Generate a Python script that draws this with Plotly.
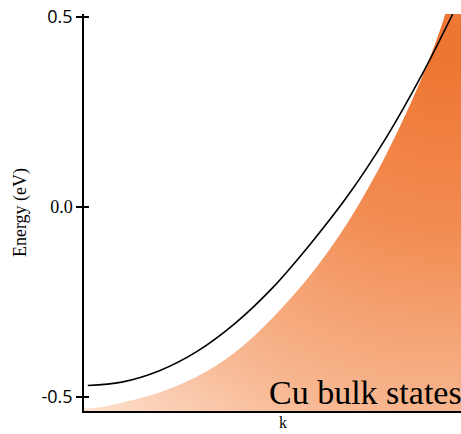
import numpy as np
import plotly.graph_objects as go

# black surface-state band (k normalised 0..1, energy in eV)
band_k = [0.010, 0.100, 0.200, 0.300, 0.400, 0.500, 0.600, 0.700, 0.800, 0.900, 0.978]
band_E = [-0.470, -0.461, -0.431, -0.380, -0.307, -0.213, -0.098, 0.030, 0.180, 0.355, 0.508]

# upper-left edge of the bulk-state continuum
edge_k = [0.020, 0.100, 0.200, 0.300, 0.400, 0.500, 0.600, 0.700, 0.800, 0.900, 0.958]
edge_E = [-0.530, -0.515, -0.488, -0.446, -0.383, -0.292, -0.180, -0.040, 0.135, 0.350, 0.508]

tick_vals = [-0.5, 0.0, 0.5]
tick_text = ['<span style="font-family:Open Sans">-0.5</span>',
             '<span style="font-family:Liberation Serif">0.0</span>',
             '<span style="font-family:Open Sans">0.5</span>']

Y_MIN, Y_MAX = -0.537, 0.508
X_MIN, X_MAX = 0.0, 1.0

# gradient field for the shaded continuum (darkest toward the upper right)
gk = np.linspace(-0.01, 1.01, 160)
gE = np.linspace(Y_MIN - 0.01, Y_MAX + 0.01, 160)
KK, EE = np.meshgrid(gk, gE)
px = KK * 377.0
py = -EE * 381.0
cx, cy = 0.955 * 377.0, -0.42 * 381.0
dist = np.sqrt((px - cx) ** 2 + (py - cy) ** 2)
Z = np.clip(dist / 520.0, 0, 1)

fig = go.Figure()
fig.add_trace(go.Heatmap(
    x=gk, y=gE, z=Z, zmin=0, zmax=1, zsmooth='best', showscale=False,
    colorscale=[[0, '#ee7430'], [0.35, '#f28c52'], [0.7, '#f7b58e'], [1, '#fde3d2']],
    hoverinfo='skip'))

mask_k = [-0.05, -0.05] + edge_k + [edge_k[-1] + 0.01, -0.05]
mask_E = [Y_MIN - 0.05, edge_E[0]] + edge_E + [Y_MAX + 0.05, Y_MAX + 0.05]
fig.add_trace(go.Scatter(x=mask_k, y=mask_E, mode='lines', fill='toself',
                         fillcolor='white', line=dict(width=0, color='white'),
                         line_shape='spline', hoverinfo='skip'))

fig.add_trace(go.Scatter(x=band_k, y=band_E, mode='lines', line_shape='spline',
                         line=dict(color='black', width=1.6), hoverinfo='skip'))

fig.add_annotation(text='Cu bulk states', xref='paper', yref='paper', x=1.0, y=0.0,
                   xanchor='right', yanchor='bottom', showarrow=False,
                   font=dict(family='Liberation Serif', size=34, color='black'),
                   borderpad=0, yshift=-1, xshift=2)

fig.add_annotation(text='k', xref='paper', yref='paper', x=(283 - 84) / 377.0, y=0.0,
                   xanchor='center', yanchor='top', showarrow=False, yshift=-1.5,
                   borderpad=0,
                   font=dict(family='Liberation Serif', size=16, color='black'))

fig.update_layout(
    width=461, height=434, margin=dict(l=84, r=0, t=14, b=23),
    paper_bgcolor='white', plot_bgcolor='white', showlegend=False,
    font=dict(family='Liberation Serif', color='black'),
    xaxis=dict(range=[X_MIN, X_MAX], showline=True, linecolor='black', linewidth=2,
               showticklabels=False, ticks='', showgrid=False, zeroline=False),
    yaxis=dict(range=[Y_MIN, Y_MAX], showline=True, linecolor='black', linewidth=1.5,
               tickvals=tick_vals, ticktext=tick_text, ticks='outside', ticklen=6,
               tickwidth=1.5, tickcolor='black', showgrid=False, zeroline=False,
               tickfont=dict(size=18, color='black'),
               title=dict(text='Energy (eV)', font=dict(size=18, family='Liberation Serif'), standoff=10)),
    yaxis2=dict(range=[Y_MIN, Y_MAX], overlaying='y', side='left', showline=False,
                tickvals=tick_vals, ticks='inside', ticklen=5, tickwidth=1.5,
                tickcolor='black', showticklabels=False, showgrid=False, zeroline=False),
)
fig.add_trace(go.Scatter(x=[None], y=[None], yaxis='y2', hoverinfo='skip'))

fig.write_html('out.html')
